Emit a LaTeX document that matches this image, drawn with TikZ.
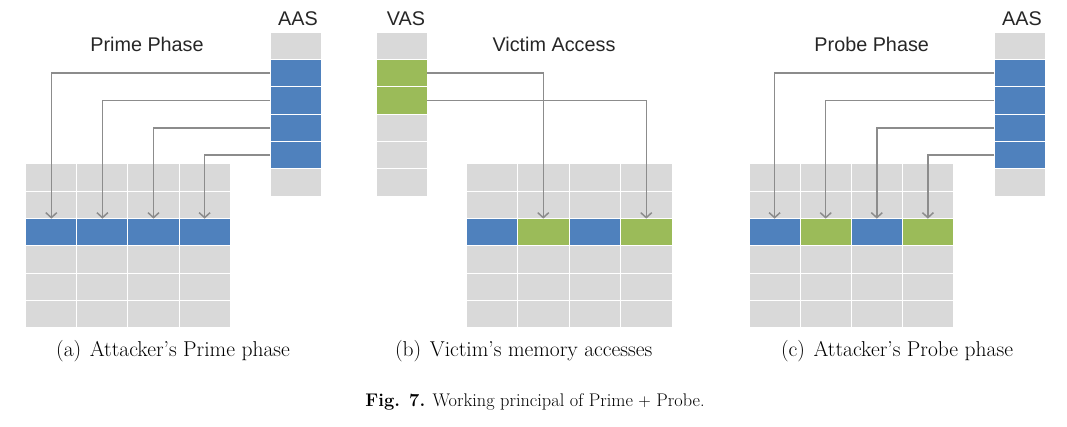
\documentclass[tikz,border=0pt]{standalone}
\usepackage{fontspec}
\setsansfont{Liberation Sans}
\usetikzlibrary{arrows.meta}
\definecolor{cellgray}{HTML}{D9D9D9}
\definecolor{cellblue}{HTML}{4F81BD}
\definecolor{cellgreen}{HTML}{9BBB59}
\definecolor{linkgray}{HTML}{8C8C8C}
\tikzset{
  cell/.style={rectangle,anchor=north west,draw=white,line width=1pt,
    fill=cellgray,minimum width=51.2pt,minimum height=27.33pt,
    inner sep=0pt,outer sep=0pt},
  slot/.style={cell,minimum width=51pt,minimum height=27.3pt},
  link/.style={linkgray,line width=1.5pt,
    -{Straight Barb[length=5pt,width=11pt]}},
  lbl/.style={anchor=base,inner sep=0pt,text=black!85,
    font=\sffamily\fontsize{19.8}{23}\selectfont},
  subcap/.style={anchor=base,inner sep=0pt,
    font=\fontsize{21.5}{25}\selectfont}
}
\begin{document}
\begin{tikzpicture}[x=1pt,y=-1pt]
    \useasboundingbox (0,0) rectangle (1067,427);
    \foreach \r in {0,1,3,4,5}
      \foreach \c in {0,...,3}
        \node[cell] (gA-\r-\c) at ({25.7+51.1*\c},{164+27.33*\r}) {};
    \foreach \c/\col in {0/cellblue,1/cellblue,2/cellblue,3/cellblue}
      \node[cell,fill=\col] (gA-2-\c) at ({25.7+51.1*\c},{164+27.33*2}) {};
    \foreach \r/\col in {0/cellgray,1/cellblue,2/cellblue,3/cellblue,
      4/cellblue,5/cellgray}
      \node[slot,fill=\col] (aasA-\r) at (270,{32.3+27.3*\r}) {};
    \node[lbl] (aasA) at (298,26) {AAS};
    \node[lbl] (prime) at (147,51.7) {Prime Phase};
    \foreach \k/\c in {1/0,2/1,3/2,4/3}
      \draw[link] (aasA-\k.west) -| (gA-2-\c.north);
    \node[subcap] (capA) at (173,356.7)
    {(a)\hspace{0.4em}Attacker’s Prime phase};

    \foreach \r in {0,1,3,4,5}
      \foreach \c in {0,...,3}
        \node[cell,minimum width=51.5pt] (gB-\r-\c)
        at ({466+51.5*\c},{164+27.33*\r}) {};
    \foreach \c/\col in {0/cellblue,1/cellgreen,2/cellblue,3/cellgreen}
      \node[cell,minimum width=51.5pt,fill=\col] (gB-2-\c)
      at ({466+51.5*\c},{164+27.33*2}) {};
    \foreach \r/\col in {0/cellgray,1/cellgreen,2/cellgreen,3/cellgray,
      4/cellgray,5/cellgray}
      \node[slot,fill=\col] (vas-\r) at (376,{32.3+27.3*\r}) {};
    \node[lbl] (vasB) at (406,26) {VAS};
    \node[lbl] (victim) at (554,51.7) {Victim Access};
    \draw[link] (vas-1.east) -| (gB-2-1.north);
    \draw[link] (vas-2.east) -| (gB-2-3.north);
    \node[subcap] (capB) at (523.7,356.7)
    {(b)\hspace{0.4em}Victim’s memory accesses};

    \foreach \r in {0,1,3,4,5}
      \foreach \c in {0,...,3}
        \node[cell] (gC-\r-\c) at ({749+51.1*\c},{164+27.33*\r}) {};
    \foreach \c/\col in {0/cellblue,1/cellgreen,2/cellblue,3/cellgreen}
      \node[cell,fill=\col] (gC-2-\c) at ({749+51.1*\c},{164+27.33*2}) {};
    \foreach \r/\col in {0/cellgray,1/cellblue,2/cellblue,3/cellblue,
      4/cellblue,5/cellgray}
      \node[slot,fill=\col] (aasC-\r) at (994.3,{32.3+27.3*\r}) {};
    \node[lbl] (aasC) at (1022,26) {AAS};
    \node[lbl] (probe) at (871.7,51.7) {Probe Phase};
    \foreach \k/\c in {1/0,2/1,3/2,4/3}
      \draw[link] (aasC-\k.west) -| (gC-2-\c.north);
    \node[subcap] (capC) at (897,356.7)
    {(c)\hspace{0.4em}Attacker’s Probe phase};

    \node[subcap,font=\fontsize{18.3}{21}\selectfont] (fig) at (535,406)
    {\textbf{Fig. 7.}\hspace{0.4em}Working principal of Prime $+$ Probe.};
\end{tikzpicture}
\end{document}
